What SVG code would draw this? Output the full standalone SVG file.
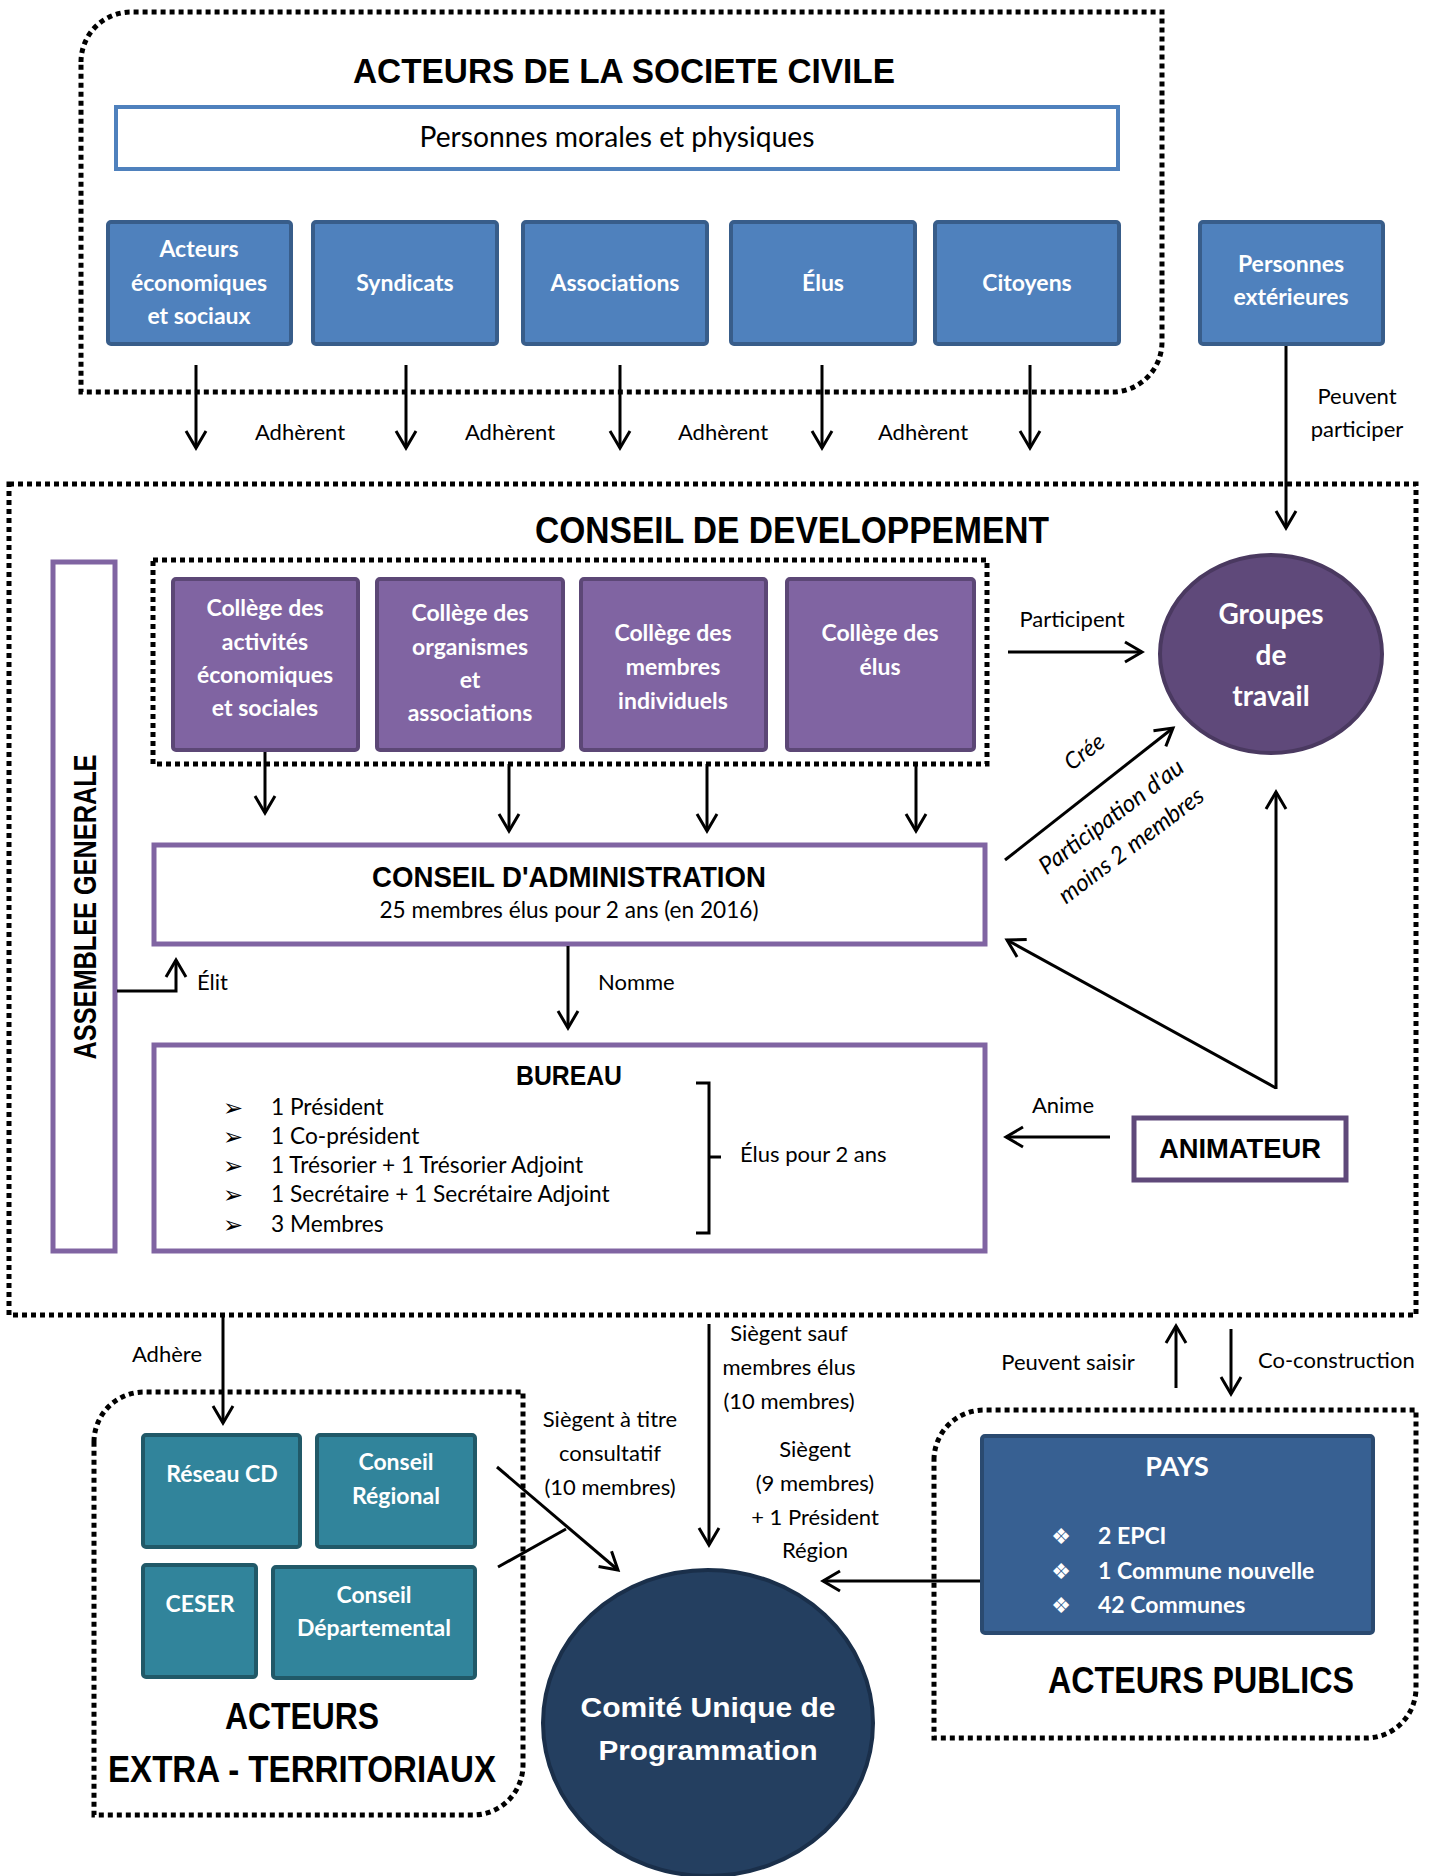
<svg xmlns="http://www.w3.org/2000/svg" width="1435" height="1876" viewBox="0 0 1435 1876">
<defs>
<marker id="ah" markerUnits="userSpaceOnUse" markerWidth="30" markerHeight="30" viewBox="-20 -15 30 30" refX="0" refY="0" orient="auto">
<path d="M-17,-10 L0,0 L-17,10" fill="none" stroke="#000" stroke-width="3"/>
</marker>
<style>
.dot{fill:none;stroke:#000;stroke-width:5;stroke-dasharray:5 4}
.blue{fill:#4F81BD;stroke:#385D8A;stroke-width:4}
.purple{fill:#8064A2;stroke:#5C4776;stroke-width:4}
.teal{fill:#31849B;stroke:#215968;stroke-width:4}
.pays{fill:#376092;stroke:#2A4A70;stroke-width:4}
.frame{fill:#fff;stroke:#8064A2;stroke-width:5}
.wl{font-family:Lato,'Open Sans',sans-serif;font-weight:700;fill:#fff;font-size:23px;text-anchor:middle}
.lbl{font-family:Lato,'Open Sans',sans-serif;font-size:22px;fill:#000}
.mid{text-anchor:middle}
.ttl{font-family:'Liberation Sans',Arial,sans-serif;font-weight:700;fill:#000}
.conn line,.conn path{stroke:#000;stroke-width:3;fill:none}
.arr{marker-end:url(#ah)}
</style>
</defs>
<rect width="1435" height="1876" fill="#fff"/>

<!-- Acteurs de la société civile -->
<g id="societe-civile">
<path class="dot" d="M81,62 A50,50 0 0 1 131,12 H1162 V342 A50,50 0 0 1 1112,392 H81 Z"/>
<text class="ttl mid" x="624" y="83" font-size="35" textLength="542" lengthAdjust="spacingAndGlyphs">ACTEURS DE LA SOCIETE CIVILE</text>
</g>
<g id="personnes-morales">
<rect x="116" y="107" width="1002" height="62" fill="#fff" stroke="#4F81BD" stroke-width="4"/>
<text class="lbl mid" x="617" y="147" style="font-size:28px" textLength="395" lengthAdjust="spacingAndGlyphs">Personnes morales et physiques</text>
</g>
<g id="acteurs-eco">
<rect class="blue" x="108" y="222" width="183" height="122" rx="3"/>
<text class="wl" x="199" y="257">Acteurs</text>
<text class="wl" x="199" y="291">économiques</text>
<text class="wl" x="199" y="324">et sociaux</text>
</g>
<g id="syndicats">
<rect class="blue" x="313" y="222" width="184" height="122" rx="3"/>
<text class="wl" x="405" y="291">Syndicats</text>
</g>
<g id="associations">
<rect class="blue" x="523" y="222" width="184" height="122" rx="3"/>
<text class="wl" x="615" y="291">Associations</text>
</g>
<g id="elus">
<rect class="blue" x="731" y="222" width="184" height="122" rx="3"/>
<text class="wl" x="823" y="291">Élus</text>
</g>
<g id="citoyens">
<rect class="blue" x="935" y="222" width="184" height="122" rx="3"/>
<text class="wl" x="1027" y="291">Citoyens</text>
</g>
<g id="personnes-ext">
<rect class="blue" x="1200" y="222" width="183" height="122" rx="3"/>
<text class="wl" x="1291" y="272">Personnes</text>
<text class="wl" x="1291" y="305">extérieures</text>
</g>

<!-- Conseil de développement -->
<g id="conseil-dev">
<rect class="dot" x="9" y="484" width="1407" height="831"/>
<text class="ttl mid" x="792" y="543" font-size="36" textLength="514" lengthAdjust="spacingAndGlyphs">CONSEIL DE DEVELOPPEMENT</text>
</g>
<g id="colleges">
<rect class="dot" x="153" y="560" width="834" height="204"/>
</g>
<g id="college-activites">
<rect class="purple" x="173" y="579" width="185" height="171" rx="3"/>
<text class="wl" x="265" y="616">Collège des</text>
<text class="wl" x="265" y="650">activités</text>
<text class="wl" x="265" y="683">économiques</text>
<text class="wl" x="265" y="716">et sociales</text>
</g>
<g id="college-organismes">
<rect class="purple" x="377" y="579" width="186" height="171" rx="3"/>
<text class="wl" x="470" y="621">Collège des</text>
<text class="wl" x="470" y="655">organismes</text>
<text class="wl" x="470" y="688">et</text>
<text class="wl" x="470" y="721">associations</text>
</g>
<g id="college-membres">
<rect class="purple" x="581" y="579" width="185" height="171" rx="3"/>
<text class="wl" x="673" y="641">Collège des</text>
<text class="wl" x="673" y="675">membres</text>
<text class="wl" x="673" y="709">individuels</text>
</g>
<g id="college-elus">
<rect class="purple" x="787" y="579" width="187" height="171" rx="3"/>
<text class="wl" x="880" y="641">Collège des</text>
<text class="wl" x="880" y="675">élus</text>
</g>
<g id="groupes-travail">
<ellipse cx="1271" cy="654" rx="111" ry="99" fill="#5F497A" stroke="#4A3960" stroke-width="4"/>
<text class="wl" x="1271" y="624" style="font-size:28px">Groupes</text>
<text class="wl" x="1271" y="665" style="font-size:28px">de</text>
<text class="wl" x="1271" y="706" style="font-size:28px">travail</text>
</g>
<g id="assemblee-generale">
<rect class="frame" x="53" y="562" width="62" height="689"/>
<text class="ttl mid" transform="translate(96,907) rotate(-90)" font-size="31" textLength="305" lengthAdjust="spacingAndGlyphs">ASSEMBLEE GENERALE</text>
</g>
<g id="conseil-admin">
<rect class="frame" x="154" y="845" width="831" height="99"/>
<text class="ttl mid" x="569" y="887" font-size="30" textLength="394" lengthAdjust="spacingAndGlyphs">CONSEIL D'ADMINISTRATION</text>
<text class="lbl mid" x="569" y="918" style="font-size:23px" textLength="379" lengthAdjust="spacingAndGlyphs">25 membres élus pour 2 ans (en 2016)</text>
</g>
<g id="bureau">
<rect class="frame" x="154" y="1045" width="831" height="206"/>
<text class="ttl mid" x="569" y="1085" font-size="28" textLength="106" lengthAdjust="spacingAndGlyphs">BUREAU</text>
<g font-family="'DejaVu Sans',sans-serif" font-size="24" fill="#000">
<text x="223" y="1116">➢</text>
<text x="223" y="1145">➢</text>
<text x="223" y="1174">➢</text>
<text x="223" y="1203">➢</text>
<text x="223" y="1233">➢</text>
</g>
<text class="lbl" x="271" y="1115" style="font-size:22.7px">1 Président</text>
<text class="lbl" x="271" y="1144" style="font-size:22.7px">1 Co-président</text>
<text class="lbl" x="271" y="1173" style="font-size:22.7px">1 Trésorier + 1 Trésorier Adjoint</text>
<text class="lbl" x="271" y="1202" style="font-size:22.7px">1 Secrétaire + 1 Secrétaire Adjoint</text>
<text class="lbl" x="271" y="1232" style="font-size:22.7px">3 Membres</text>
<path d="M696,1083 H709 V1233 H696 M709,1157 H721" fill="none" stroke="#000" stroke-width="3"/>
<text class="lbl" x="740" y="1162">Élus pour 2 ans</text>
</g>
<g id="animateur">
<rect x="1134" y="1118" width="212" height="62" fill="#fff" stroke="#5F497A" stroke-width="5"/>
<text class="ttl mid" x="1240" y="1158" font-size="28" textLength="162" lengthAdjust="spacingAndGlyphs">ANIMATEUR</text>
</g>

<!-- Bottom -->
<g id="extra-territoriaux">
<path class="dot" d="M94,1442 A50,50 0 0 1 144,1392 H523 V1765 A50,50 0 0 1 473,1815 H94 Z"/>
<text class="ttl mid" x="302" y="1729" font-size="36" textLength="154" lengthAdjust="spacingAndGlyphs">ACTEURS</text>
<text class="ttl mid" x="302" y="1782" font-size="36" textLength="388" lengthAdjust="spacingAndGlyphs">EXTRA - TERRITORIAUX</text>
</g>
<g id="reseau-cd">
<rect class="teal" x="143" y="1435" width="157" height="112" rx="3"/>
<text class="wl" x="222" y="1482">Réseau CD</text>
</g>
<g id="conseil-regional">
<rect class="teal" x="317" y="1435" width="158" height="112" rx="3"/>
<text class="wl" x="396" y="1470">Conseil</text>
<text class="wl" x="396" y="1504">Régional</text>
</g>
<g id="ceser">
<rect class="teal" x="143" y="1565" width="113" height="112" rx="3"/>
<text class="wl" x="200" y="1612">CESER</text>
</g>
<g id="conseil-departemental">
<rect class="teal" x="273" y="1567" width="202" height="111" rx="3"/>
<text class="wl" x="374" y="1603">Conseil</text>
<text class="wl" x="374" y="1636">Départemental</text>
</g>
<g id="comite-unique">
<ellipse cx="708" cy="1723" rx="165" ry="153" fill="#243F60" stroke="#1A2F4A" stroke-width="4"/>
<text class="ttl mid" x="708" y="1717" font-size="27" style="fill:#fff" textLength="255" lengthAdjust="spacingAndGlyphs">Comité Unique de</text>
<text class="ttl mid" x="708" y="1760" font-size="27" style="fill:#fff" textLength="219" lengthAdjust="spacingAndGlyphs">Programmation</text>
</g>
<g id="acteurs-publics">
<path class="dot" d="M934,1460 A50,50 0 0 1 984,1410 H1416 V1688 A50,50 0 0 1 1366,1738 H934 Z"/>
<text class="ttl mid" x="1201" y="1693" font-size="36" textLength="306" lengthAdjust="spacingAndGlyphs">ACTEURS PUBLICS</text>
</g>
<g id="pays">
<rect class="pays" x="982" y="1436" width="391" height="197" rx="3"/>
<text class="wl" x="1177" y="1476" style="font-size:27px">PAYS</text>
<g font-family="'DejaVu Sans',sans-serif" font-size="22" fill="#fff" text-anchor="middle">
<text x="1061" y="1544">❖</text>
<text x="1061" y="1579">❖</text>
<text x="1061" y="1613">❖</text>
</g>
<text class="wl" x="1098" y="1544" style="text-anchor:start">2 EPCI</text>
<text class="wl" x="1098" y="1579" style="text-anchor:start">1 Commune nouvelle</text>
<text class="wl" x="1098" y="1613" style="text-anchor:start">42 Communes</text>
</g>

<!-- Connectors -->
<g id="connectors" class="conn">
<line class="arr" x1="196" y1="365" x2="196" y2="448"/>
<line class="arr" x1="406" y1="365" x2="406" y2="448"/>
<line class="arr" x1="620" y1="365" x2="620" y2="448"/>
<line class="arr" x1="822" y1="365" x2="822" y2="448"/>
<line class="arr" x1="1030" y1="365" x2="1030" y2="448"/>
<line class="arr" x1="1286" y1="346" x2="1286" y2="528"/>
<line class="arr" x1="265" y1="752" x2="265" y2="813"/>
<line class="arr" x1="509" y1="764" x2="509" y2="831"/>
<line class="arr" x1="707" y1="764" x2="707" y2="831"/>
<line class="arr" x1="916" y1="764" x2="916" y2="831"/>
<line class="arr" x1="1008" y1="652" x2="1142" y2="652"/>
<line class="arr" x1="1005" y1="860" x2="1173" y2="728"/>
<line class="arr" x1="1276" y1="1088" x2="1007" y2="940"/>
<line class="arr" x1="1276" y1="1089" x2="1276" y2="792"/>
<line class="arr" x1="1110" y1="1137" x2="1006" y2="1137"/>
<path class="arr" d="M117,991 H176 V960"/>
<line class="arr" x1="568" y1="946" x2="568" y2="1028"/>
<line class="arr" x1="223" y1="1315" x2="223" y2="1423"/>
<line class="arr" x1="497" y1="1467" x2="618" y2="1570"/>
<line x1="498" y1="1567" x2="566" y2="1529"/>
<line class="arr" x1="709" y1="1324" x2="709" y2="1545"/>
<line class="arr" x1="980" y1="1581" x2="823" y2="1581"/>
<line class="arr" x1="1176" y1="1388" x2="1176" y2="1326"/>
<line class="arr" x1="1231" y1="1329" x2="1231" y2="1394"/>
</g>

<!-- Connector labels -->
<g id="labels">
<text class="lbl mid" x="300" y="440">Adhèrent</text>
<text class="lbl mid" x="510" y="440">Adhèrent</text>
<text class="lbl mid" x="723" y="440">Adhèrent</text>
<text class="lbl mid" x="923" y="440">Adhèrent</text>
<text class="lbl mid" x="1357" y="404">Peuvent</text>
<text class="lbl mid" x="1357" y="437">participer</text>
<text class="lbl mid" x="1072" y="627">Participent</text>
<g font-style="italic">
<text class="lbl mid" style="font-size:23px" transform="translate(1089,758) rotate(-37)">Crée</text>
<text class="lbl mid" style="font-size:24px" transform="translate(1116,823) rotate(-37)">Participation d'au</text>
<text class="lbl mid" style="font-size:24px" transform="translate(1136,852) rotate(-37)">moins 2 membres</text>
</g>
<text class="lbl" x="197" y="990">Élit</text>
<text class="lbl" x="598" y="990">Nomme</text>
<text class="lbl mid" x="1063" y="1113">Anime</text>
<text class="lbl mid" x="167" y="1362">Adhère</text>
<text class="lbl mid" x="610" y="1427">Siègent à titre</text>
<text class="lbl mid" x="610" y="1461">consultatif</text>
<text class="lbl mid" x="610" y="1495">(10 membres)</text>
<text class="lbl mid" x="789" y="1341">Siègent sauf</text>
<text class="lbl mid" x="789" y="1375">membres élus</text>
<text class="lbl mid" x="789" y="1409">(10 membres)</text>
<text class="lbl mid" x="815" y="1457">Siègent</text>
<text class="lbl mid" x="815" y="1491">(9 membres)</text>
<text class="lbl mid" x="815" y="1525">+ 1 Président</text>
<text class="lbl mid" x="815" y="1558">Région</text>
<text class="lbl mid" x="1068" y="1370">Peuvent saisir</text>
<text class="lbl" x="1258" y="1368">Co-construction</text>
</g>
</svg>
